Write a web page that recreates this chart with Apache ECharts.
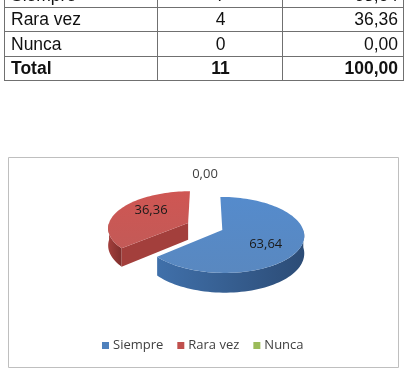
<!DOCTYPE html>
<html>
<head>
<meta charset="utf-8">
<script src="https://cdn.jsdelivr.net/npm/echarts@6.0.0/dist/echarts.min.js"></script>
<style>
  html, body { margin: 0; padding: 0; background: #fff; overflow: hidden; }
  #chart { position: absolute; left: 0; top: 0; width: 406px; height: 373px; }
  #tbl {
    position: absolute; left: 4px; top: -18px; z-index: 2;
    border-collapse: collapse; table-layout: fixed;
    font-family: 'Liberation Sans', Arial, sans-serif; font-size: 17.5px; color: #111;
  }
  #tbl td { border: 1px solid #707070; height: 23.5px; padding: 0 5px 0 6px; line-height: 20px; white-space: nowrap; }
  #tbl td.c { text-align: center; }
  #tbl td.r { text-align: right; }
  #tbl tr.total td { font-weight: bold; }
</style>
</head>
<body>
<table id="tbl">
  <colgroup><col style="width:153px"><col style="width:125px"><col style="width:121px"></colgroup>
  <tbody id="tbody"></tbody>
</table>
<div id="chart"></div>
<script>
const categories = ['Siempre', 'Rara vez', 'Nunca']
const counts = [7, 4, 0]
const percents = ['63,64', '36,36', '0,00']
const totalLabel = 'Total'
const totalCount = '11'
const totalPercent = '100,00'

// colours: top face, wall (light, dark)
const topColors = ['#4F81BD', '#C0504D', '#9BBB59']
const wallColors = [['#4070AA', '#2C4C76'], ['#A33F3C', '#7E2E2C'], ['#7F9A48', '#627638']]

// table
const tbody = document.getElementById('tbody')
categories.forEach((name, i) => {
  const tr = document.createElement('tr')
  tr.innerHTML = '<td>' + name + '</td><td class="c">' + counts[i] + '</td><td class="r">' + percents[i] + '</td>'
  tbody.appendChild(tr)
})
const totalRow = document.createElement('tr')
totalRow.className = 'total'
totalRow.innerHTML = '<td>' + totalLabel + '</td><td class="c">' + totalCount + '</td><td class="r">' + totalPercent + '</td>'
tbody.appendChild(totalRow)

// 3D pie geometry
const CX = 205, CY = 226.5, RX = 80, RY = 36.5, F = 8, DEPTH = 17, EXPLODE = 0.235
const proj = (X, Z, h) => {
  const p = F / (F + Z)
  return [CX + RX * X * p, CY - RY * Z * p + h * p]
}
const sumCounts = counts.reduce((a, b) => a + b, 0)

const renderSlice = (i) => function (params, api) {
  const value = api.value(0)
  const before = counts.slice(0, i).reduce((a, b) => a + b, 0)
  const a0 = before / sumCounts * Math.PI * 2
  const a1 = (before + value) / sumCounts * Math.PI * 2
  const mid = (a0 + a1) / 2
  const ox = EXPLODE * Math.sin(mid), oz = EXPLODE * Math.cos(mid)
  const pt = (t, r, h) => proj(ox + r * Math.sin(t), oz + r * Math.cos(t), h)
  const arc = (from, to, h) => {
    const n = Math.max(6, Math.ceil((to - from) / 0.04))
    const pts = []
    for (let k = 0; k <= n; k++) pts.push(pt(from + (to - from) * k / n, 1, h))
    return pts
  }
  const children = []
  if (a1 > a0) {
    // outer wall, front part only
    const w0 = Math.max(a0, Math.PI / 2), w1 = Math.min(a1, Math.PI * 1.5)
    if (w1 > w0) {
      const pts = arc(w0, w1, 0).concat(arc(w0, w1, DEPTH).reverse())
      children.push({
        type: 'polygon', shape: { points: pts },
        style: { fill: new echarts.graphic.LinearGradient(0, 0, 1, 0, [
          { offset: 0, color: wallColors[i][0] }, { offset: 1, color: wallColors[i][1] }]) }
      })
    }
    // cut faces facing the viewer
    const cutFace = (a) => ({
      type: 'polygon',
      shape: { points: [pt(a, 0, 0), pt(a, 1, 0), pt(a, 1, DEPTH), pt(a, 0, DEPTH)] },
      style: { fill: wallColors[i][0] }
    })
    if (Math.sin(a0) < -1e-6) children.push(cutFace(a0))
    if (Math.sin(a1) > 1e-6) children.push(cutFace(a1))
    // top face
    children.push({
      type: 'polygon', shape: { points: [pt(0, 0, 0)].concat(arc(a0, a1, 0)) },
      style: { fill: new echarts.graphic.LinearGradient(0, 0, 0, 1, [
        { offset: 0, color: echarts.color.lift(topColors[i], -0.08) },
        { offset: 1, color: echarts.color.lift(topColors[i], 0.06) }]) }
    })
  }
  const lp = value > 0
    ? proj(ox + 0.55 * Math.sin(mid), oz + 0.9 * Math.cos(mid), 0)
    : pt(mid, 1.49, 0)
  children.push({
    type: 'text', x: lp[0], y: lp[1],
    style: {
      text: percents[i], fill: value > 0 ? '#1a1a1a' : '#404040',
      font: '13px "Open Sans"', align: 'center', verticalAlign: 'middle'
    }
  })
  return { type: 'group', children }
}

const chart = echarts.init(document.getElementById('chart'))
chart.setOption({
  animation: false,
  graphic: [{
    type: 'rect', shape: { x: 8.5, y: 157.5, width: 390, height: 210 },
    style: { fill: 'none', stroke: '#BFBFBF', lineWidth: 1 }, z: 0
  }],
  legend: {
    data: categories,
    left: 102,
    top: 339,
    padding: 0,
    itemWidth: 7,
    itemHeight: 7,
    itemGap: 14,
    icon: 'rect',
    textStyle: { fontFamily: 'Open Sans', fontSize: 13, color: '#404040', padding: [0, 0, 0, -1] }
  },
  series: categories.map((name, i) => ({
    type: 'custom',
    name: name,
    coordinateSystem: 'none',
    color: topColors[i],
    z: i === 0 ? 4 : 3,
    silent: true,
    data: [[counts[i]]],
    renderItem: renderSlice(i)
  }))
})
</script>
</body>
</html>
